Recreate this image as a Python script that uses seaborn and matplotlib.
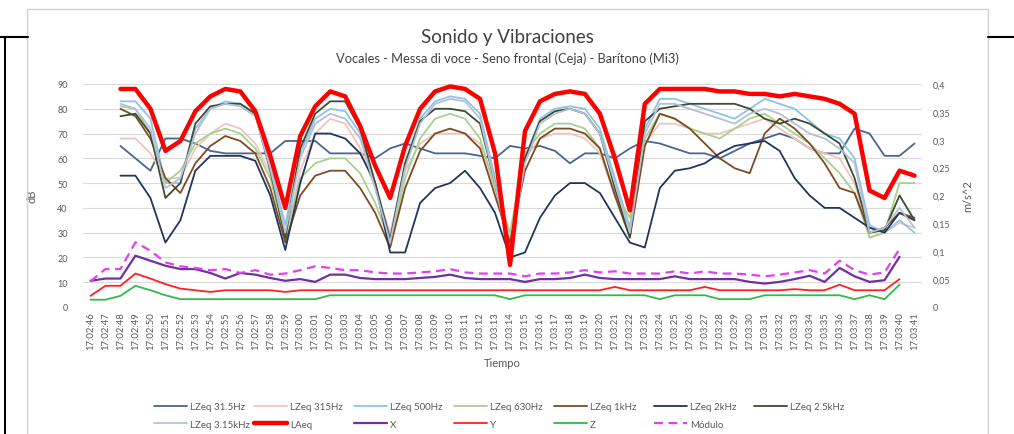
import numpy as np
import pandas as pd
import matplotlib.pyplot as plt
import seaborn as sns
from matplotlib.patches import Rectangle
from matplotlib.lines import Line2D

# ---- data -------------------------------------------------------------
tiempo = ["17:02:%02d" % s for s in range(46, 60)] + ["17:03:%02d" % s for s in range(0, 42)]
nan = np.nan

# dB series (primary axis)
lz_31 = [nan, nan, 65, 60, 55, 68, 68, 66, 63, 62, 62, 62, 62, 67, 67, 67, 62, 62, 62, 60,
         64, 66, 64, 62, 62, 62, 61, 60, 65, 64, 65, 63, 58, 62, 62, 60, 64, 67, 66, 64,
         62, 62, 60, 63, 66, 68, 70, 68, 64, 62, 62, 72, 70, 61, 61, 66]
lz_315 = [nan, nan, 68, 68, 62, 52, 52, 64, 70, 74, 72, 66, 54, 28, 55, 70, 76, 74, 64, 48,
          30, 55, 66, 70, 70, 70, 66, 48, 28, 60, 68, 70, 70, 68, 62, 45, 32, 66, 74, 74,
          72, 70, 70, 72, 74, 76, 72, 68, 64, 62, 60, 50, 28, 30, 34, 32]
lz_500 = [nan, nan, 83, 83, 76, 50, 50, 72, 80, 83, 82, 78, 58, 33, 62, 76, 80, 79, 70, 50,
          28, 58, 76, 83, 85, 84, 78, 52, 24, 60, 76, 80, 81, 80, 72, 52, 32, 72, 84, 84,
          82, 80, 78, 76, 80, 84, 82, 80, 75, 70, 68, 60, 33, 30, 35, 30]
lz_630 = [nan, nan, 82, 80, 70, 50, 55, 66, 70, 72, 70, 64, 52, 28, 52, 58, 60, 60, 54, 42,
          26, 52, 68, 76, 78, 76, 68, 48, 30, 62, 70, 74, 74, 72, 64, 46, 36, 68, 78, 76,
          72, 70, 68, 72, 76, 78, 74, 70, 66, 60, 54, 46, 28, 30, 50, 50]
lz_1k = [nan, nan, 80, 77, 68, 52, 46, 58, 65, 69, 67, 62, 48, 26, 45, 53, 55, 55, 48, 38,
         24, 48, 63, 70, 72, 70, 64, 45, 26, 55, 68, 72, 72, 70, 64, 45, 28, 65, 78, 76,
         72, 66, 60, 56, 54, 70, 76, 72, 66, 58, 48, 46, 30, 32, 38, 36]
lz_2k = [nan, nan, 53, 53, 44, 26, 35, 55, 61, 61, 61, 59, 45, 23, 50, 70, 70, 68, 62, 50,
         22, 22, 42, 48, 50, 55, 48, 38, 20, 22, 36, 45, 50, 50, 46, 36, 26, 24, 48, 55,
         56, 58, 62, 65, 66, 67, 63, 52, 45, 40, 40, 36, 32, 30, 38, 35]
lz_2k5 = [nan, nan, 77, 78, 70, 44, 50, 74, 81, 82, 82, 78, 55, 28, 64, 78, 83, 83, 72, 50,
          27, 58, 75, 80, 80, 79, 74, 50, 22, 60, 75, 79, 80, 78, 70, 48, 28, 75, 80, 81,
          82, 82, 82, 82, 80, 76, 74, 76, 74, 70, 66, 52, 30, 31, 45, 35]
lz_3k15 = [nan, nan, 81, 80, 72, 48, 52, 70, 80, 82, 81, 77, 56, 30, 60, 74, 78, 76, 68, 48,
           26, 56, 74, 82, 84, 83, 76, 50, 22, 58, 74, 78, 80, 78, 70, 50, 30, 70, 82, 82,
           80, 78, 76, 74, 78, 80, 78, 74, 70, 68, 64, 58, 30, 32, 40, 32]
laeq = [nan, nan, 88, 88, 80, 63, 67, 79, 85, 88, 87, 79, 61, 40, 69, 81, 87, 85, 73, 57,
        44, 65, 80, 87, 89, 88, 84, 62, 17, 71, 83, 86, 87, 86, 78, 60, 39, 82, 88, 88,
        88, 88, 87, 87, 86, 86, 85, 86, 85, 84, 82, 78, 47, 44, 55, 53]

# vibration series, m/s^2 (secondary axis)
x_vib = [0.047, 0.051, 0.051, 0.092, 0.083, 0.074, 0.068, 0.068, 0.061, 0.051, 0.061, 0.058, 0.052, 0.047, 0.050,
         0.045, 0.058, 0.058, 0.052, 0.050, 0.050, 0.050, 0.052, 0.054, 0.058, 0.052, 0.050, 0.050, 0.050, 0.045,
         0.050, 0.050, 0.052, 0.058, 0.052, 0.050, 0.050, 0.050, 0.050, 0.055, 0.050, 0.050, 0.050, 0.050, 0.045,
         0.042, 0.045, 0.050, 0.056, 0.045, 0.070, 0.055, 0.045, 0.048, 0.090, nan]
y_vib = [0.020, 0.038, 0.038, 0.060, 0.051, 0.041, 0.033, 0.030, 0.027, 0.030, 0.030, 0.030, 0.030, 0.027, 0.030,
         0.030, 0.030, 0.030, 0.030, 0.030, 0.030, 0.030, 0.030, 0.030, 0.030, 0.030, 0.030, 0.030, 0.030, 0.030,
         0.030, 0.030, 0.030, 0.030, 0.030, 0.036, 0.030, 0.030, 0.030, 0.030, 0.030, 0.036, 0.030, 0.030, 0.030,
         0.030, 0.030, 0.032, 0.030, 0.030, 0.040, 0.030, 0.030, 0.030, 0.050, nan]
z_vib = [0.013, 0.013, 0.020, 0.038, 0.030, 0.021, 0.014, 0.014, 0.014, 0.014, 0.014, 0.014, 0.014, 0.014, 0.014,
         0.014, 0.021, 0.021, 0.021, 0.021, 0.021, 0.021, 0.021, 0.021, 0.021, 0.021, 0.021, 0.021, 0.014, 0.021,
         0.021, 0.021, 0.021, 0.021, 0.021, 0.021, 0.021, 0.021, 0.014, 0.021, 0.021, 0.021, 0.014, 0.014, 0.014,
         0.021, 0.021, 0.021, 0.021, 0.021, 0.021, 0.014, 0.021, 0.014, 0.040, nan]
modulo = [0.046, 0.068, 0.068, 0.116, 0.101, 0.080, 0.073, 0.070, 0.066, 0.068, 0.061, 0.066, 0.058, 0.060, 0.066,
          0.073, 0.070, 0.066, 0.066, 0.062, 0.060, 0.060, 0.062, 0.064, 0.068, 0.062, 0.060, 0.060, 0.060, 0.055,
          0.060, 0.060, 0.062, 0.066, 0.062, 0.064, 0.060, 0.060, 0.060, 0.064, 0.060, 0.064, 0.060, 0.060, 0.058,
          0.055, 0.058, 0.062, 0.066, 0.060, 0.083, 0.066, 0.058, 0.062, 0.104, nan]

# ---- style --------------------------------------------------------------
sns.set_style("white")
plt.rcParams['font.family'] = ['Lato', 'DejaVu Sans']
grey = "#595959"

fig = plt.figure(figsize=(10.14, 4.35), dpi=100)

# chart frame and sheet lines
fig.patches.append(Rectangle((27 / 1014, -0.01), 961 / 1014, 1 - 10 / 435 + 0.01,
                             transform=fig.transFigure, fill=False, ec="#D0D0D0", lw=1))
fig.lines.append(Line2D([0, 28 / 1014], [1 - 38 / 435] * 2, transform=fig.transFigure, color="black", lw=1.5))
fig.lines.append(Line2D([988 / 1014, 1], [1 - 38 / 435] * 2, transform=fig.transFigure, color="black", lw=1.5))
fig.lines.append(Line2D([5 / 1014] * 2, [0, 1 - 38 / 435], transform=fig.transFigure, color="black", lw=1.5))

ax = fig.add_axes([83 / 1014, 0.292, 839 / 1014, 0.5126])
ax2 = ax.twinx()
xs = np.arange(len(tiempo))

db_series = [
    ("LZeq 31.5Hz", lz_31, "#4A6591", 1.3),
    ("LZeq 315Hz", lz_315, "#F2C4BE", 1.3),
    ("LZeq 500Hz", lz_500, "#8EC3E8", 1.3),
    ("LZeq 630Hz", lz_630, "#A9D18E", 1.3),
    ("LZeq 1kHz", lz_1k, "#7F4A22", 1.3),
    ("LZeq 2kHz", lz_2k, "#22355E", 1.3),
    ("LZeq 2.5kHz", lz_2k5, "#3D4B33", 1.3),
    ("LZeq 3.15kHz", lz_3k15, "#B4C1D4", 1.3),
    ("LAeq", laeq, "#FF0000", 3.2),
]
for name, vals, col, lw in db_series:
    sns.lineplot(x=xs, y=vals, ax=ax, color=col, lw=lw, label=name)

vib_series = [
    ("X", x_vib, "#7030A0", 1.6),
    ("Y", y_vib, "#FF2020", 1.3),
    ("Z", z_vib, "#33B94A", 1.3),
]
for name, vals, col, lw in vib_series:
    sns.lineplot(x=xs, y=vals, ax=ax2, color=col, lw=lw, label=name)
sns.lineplot(x=xs, y=modulo, ax=ax2, color="#E040F0", lw=1.6, dashes=False, label="Módulo")
ax2.lines[-1].set_dashes((4, 2.5))

ax.set_ylim(0, 90)
ax.set_yticks(range(0, 91, 10))
ax2.set_ylim(0, 0.4)
ax2.set_yticks(np.arange(0, 0.401, 0.05))
ax2.set_yticklabels(["0", "0,05", "0,1", "0,15", "0,2", "0,25", "0,3", "0,35", "0,4"])
ax.set_xlim(-0.5, len(tiempo) - 0.5)
ax.set_xticks(xs)
ax.set_xticklabels(tiempo, rotation=90)
ax.yaxis.grid(True, color="#D9D9D9", lw=0.8)
ax.set_axisbelow(True)
for a in (ax, ax2):
    for s in a.spines.values():
        s.set_visible(False)
    a.tick_params(length=0, labelsize=6.5, colors=grey)
ax.tick_params(axis="y", pad=11)
ax2.tick_params(axis="y", pad=8)
ax.tick_params(axis="x", labelsize=6.8, pad=3)

ax.set_ylabel("dB", fontsize=8, color=grey, labelpad=14)
ax2.set_ylabel("m/s^2", fontsize=8, color=grey, labelpad=8)
ax.set_xlabel("Tiempo", fontsize=8, color=grey, labelpad=6)

# legend: Excel-like fixed columns, two rows
h1, l1 = ax.get_legend_handles_labels()
h2, l2 = ax2.get_legend_handles_labels()
ax.get_legend().remove()
ax2.get_legend().remove()
hd = dict(zip(l1 + l2, h1 + h2))
row1 = ["LZeq 31.5Hz", "LZeq 315Hz", "LZeq 500Hz", "LZeq 630Hz", "LZeq 1kHz", "LZeq 2kHz", "LZeq 2.5kHz"]
row2 = ["LZeq 3.15kHz", "LAeq", "X", "Y", "Z", "Módulo"]
for c in range(7):
    labs = [row1[c]] + ([row2[c]] if c < len(row2) else [])
    fig.legend([hd[k] for k in labs], labs, loc="upper left",
               bbox_to_anchor=((152 + 100 * c) / 1014, 1 - 401 / 435),
               frameon=False, fontsize=7, handlelength=3.4, handletextpad=0.3,
               labelspacing=0.9, borderaxespad=0, borderpad=0.2, labelcolor=grey)

fig.text(0.5, 1 - 37 / 435, "Sonido y Vibraciones", ha="center", va="center", fontsize=13.5, color="#404040")
fig.text(0.5, 1 - 59 / 435, "Vocales - Messa di voce - Seno frontal (Ceja) - Barítono (Mi3)",
         ha="center", va="center", fontsize=9.3, color="#404040")

fig.savefig("out.png", dpi=100)
